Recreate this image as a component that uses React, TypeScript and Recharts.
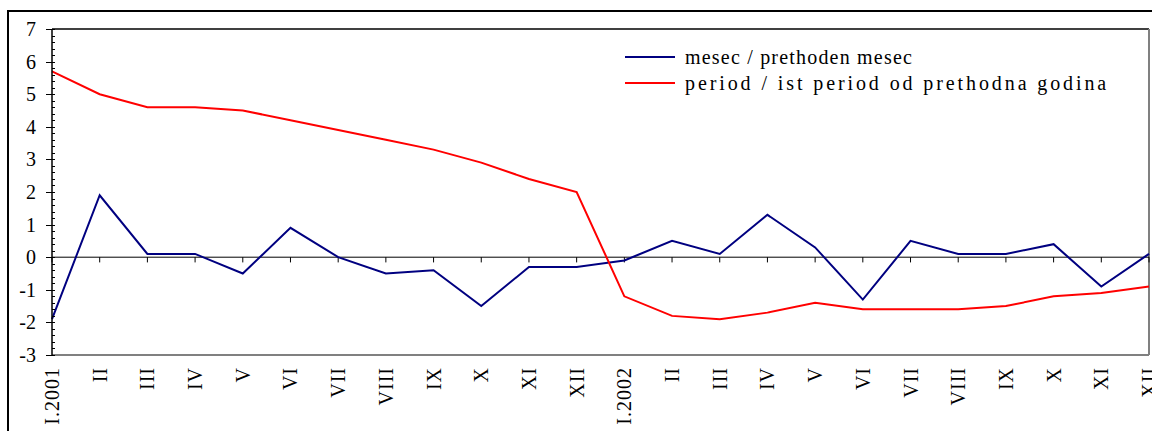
import React from 'react'
import { LineChart, Line, XAxis, YAxis, ReferenceLine, Legend } from 'recharts'

// month labels, two years
const months = [
  'I.2001', 'II', 'III', 'IV', 'V', 'VI', 'VII', 'VIII', 'IX', 'X', 'XI', 'XII',
  'I.2002', 'II', 'III', 'IV', 'V', 'VI', 'VII', 'VIII', 'IX', 'X', 'XI', 'XII',
]

// mesec / prethoden mesec
const monthly = [
  -1.9, 1.9, 0.1, 0.1, -0.5, 0.9, 0.0, -0.5, -0.4, -1.5, -0.3, -0.3,
  -0.1, 0.5, 0.1, 1.3, 0.3, -1.3, 0.5, 0.1, 0.1, 0.4, -0.9, 0.1,
]

// period / ist period od prethodna godina
const yearly = [
  5.7, 5.0, 4.6, 4.6, 4.5, 4.2, 3.9, 3.6, 3.3, 2.9, 2.4, 2.0,
  -1.2, -1.8, -1.9, -1.7, -1.4, -1.6, -1.6, -1.6, -1.5, -1.2, -1.1, -0.9,
]

const majorTicks = [-3, -2, -1, 0, 1, 2, 3, 4, 5, 6, 7]
const minorTicks = Array.from({ length: 51 }, (_, i) => Math.round((-3 + i * 0.2) * 10) / 10)

const seriesNames = ['mesec / prethoden mesec', 'period / ist period od prethodna godina']

const data = months.map((m, i) => ({ idx: i, monthly: monthly[i], yearly: yearly[i] }))

const FONT = '"Liberation Serif", "Times New Roman", serif'

const YTick = (props: any) => {
  const { x, y, payload } = props
  const v = payload.value
  const major = majorTicks.includes(v)
  const yy = Math.round(y) + 0.5
  return (
    <g>
      <line
        x1={major ? x - 6 : x}
        x2={x + 3}
        y1={yy}
        y2={yy}
        stroke="#000"
        strokeWidth={1}
        shapeRendering="crispEdges"
      />
      {major && (
        <text x={x - 16} y={y} textAnchor="end" dominantBaseline="central" fontSize={20} fontFamily={FONT} fill="#000">
          {v}
        </text>
      )}
    </g>
  )
}

const XTick = (props: any) => {
  const { x, y, payload } = props
  return (
    <g transform={`translate(${x},${y + 12}) rotate(-90)`}>
      <text x={0} y={0} textAnchor="end" dominantBaseline="central" fontSize={20} fontFamily={FONT} fill="#000" letterSpacing={1}>
        {months[payload.value]}
      </text>
    </g>
  )
}

const LegendBox = (props: any) => {
  const { payload } = props
  return (
    <div style={{ fontFamily: FONT, fontSize: 20, color: '#000' }}>
      {(payload || []).map((p: any, i: number) => (
        <div key={i} style={{ display: 'flex', alignItems: 'center', height: 26 }}>
          <svg width={55} height={4} style={{ marginRight: 5 }}>
            <line x1={0} x2={50} y1={2} y2={2} stroke={p.color} strokeWidth={2} />
          </svg>
          <span style={{ letterSpacing: i === 0 ? 1.2 : 2.9, whiteSpace: 'nowrap' }}>{p.value}</span>
        </div>
      ))}
    </div>
  )
}

export default function App() {
  return (
    <div
      style={{
        position: 'fixed',
        left: 7,
        top: 10,
        width: 1145,
        height: 421,
        boxSizing: 'border-box',
        borderTop: '2px solid #000',
        borderLeft: '2px solid #000',
        overflow: 'hidden',
        background: '#fff',
      }}
    >
      <LineChart width={1143} height={419} data={data} margin={{ top: 17, right: 3, bottom: 0, left: 0 }}>
        <XAxis
          dataKey="idx"
          type="category"
          height={76}
          interval={0}
          tickSize={0}
          tickMargin={0}
          tickLine={false}
          axisLine={{ stroke: '#808080', strokeWidth: 2 }}
          tick={<XTick />}
        />
        <YAxis
          width={43}
          domain={[-3, 7]}
          ticks={minorTicks}
          interval={0}
          tickSize={0}
          tickMargin={0}
          tickLine={false}
          axisLine={{ stroke: '#000', strokeWidth: 1.5 }}
          tick={<YTick />}
        />
        <ReferenceLine y={7} stroke="#000" strokeWidth={1.5} />
        <ReferenceLine x={23} stroke="#808080" strokeWidth={2} />
        <ReferenceLine y={0} stroke="#000" strokeWidth={1} />
        {months.map((_, i) => (
          <ReferenceLine
            key={i}
            segment={[{ x: i, y: 0 }, { x: i, y: -0.16 }]}
            stroke="#000"
            strokeWidth={1}
          />
        ))}
        <Legend
          layout="vertical"
          align="center"
          verticalAlign="middle"
          wrapperStyle={{ left: 616, top: 32, width: 520 }}
          content={<LegendBox />}
        />
        <Line
          name={seriesNames[0]}
          dataKey="monthly"
          stroke="#000080"
          strokeWidth={2}
          dot={false}
          isAnimationActive={false}
        />
        <Line
          name={seriesNames[1]}
          dataKey="yearly"
          stroke="#ff0000"
          strokeWidth={2}
          dot={false}
          isAnimationActive={false}
        />
      </LineChart>
    </div>
  )
}
